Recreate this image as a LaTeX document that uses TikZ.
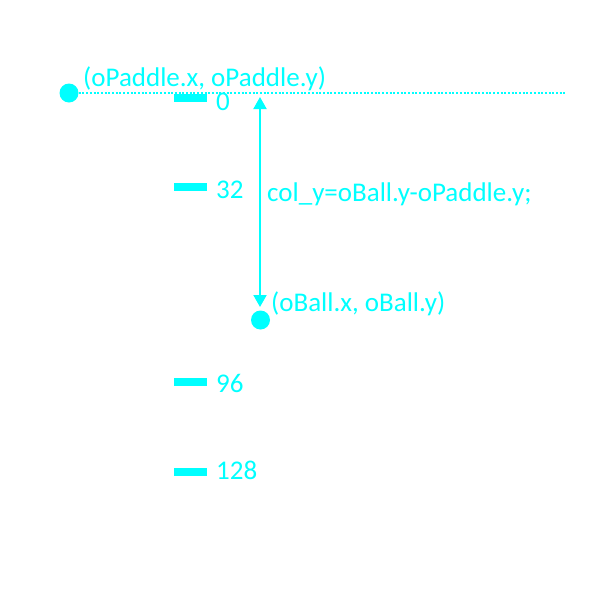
\documentclass[tikz,border=0pt]{standalone}
\usepackage{fontspec}
\setmainfont{Carlito}
\usetikzlibrary{arrows.meta}
\definecolor{cy}{RGB}{0,255,255}
\tikzset{
  lbl/.style={anchor=base west, inner sep=0pt, text=cy, font=\fontsize{27}{31}\selectfont},
  tickmark/.style={fill=cy, draw=none, minimum width=33pt, minimum height=8pt, inner sep=0pt},
  dot/.style={circle, fill=cy, draw=none, minimum size=19pt, inner sep=0pt},
  guide/.style={draw=cy, line width=2.3pt, dash pattern=on 2pt off 1.7pt},
  measure/.style={draw=cy, line width=2pt, {Triangle[length=12pt,width=13pt]}-{Triangle[length=12pt,width=13pt]}}
}
\begin{document}
\begin{tikzpicture}[x=1pt,y=-1pt]
\useasboundingbox (0,0) rectangle (600,600);
% paddle and guide line
\node[dot] (paddle) at (69,93) {};
\coordinate (gend) at (566,93);
\draw[guide] (paddle.east) -- (gend);
\node[lbl] (plabel) at (83,86) {(oPaddle.x, oPaddle.y)};
% ticks
\node[tickmark] (t0) at (190.5,98) {};
\node[tickmark] (t32) at (190.5,187) {};
\node[tickmark] (t96) at (190.5,382) {};
\node[tickmark] (t128) at (190.5,472) {};
\node[lbl] (l0) at (216,110) {0};
\node[lbl] (l32) at (216,198) {32};
\node[lbl] (l96) at (216,392) {96};
\node[lbl] (l128) at (216,479) {128};
% ball
\node[dot] (ball) at (260.5,320) {};
\node[lbl] (blabel) at (271,311) {(oBall.x, oBall.y)};
% measure arrow
\coordinate (atop) at (260,97);
\coordinate (abot) at (260,307);
\draw[measure] (atop) -- (abot);
\node[lbl] (clabel) at (267,201) {col\_y=oBall.y-oPaddle.y;};
\end{tikzpicture}
\end{document}
